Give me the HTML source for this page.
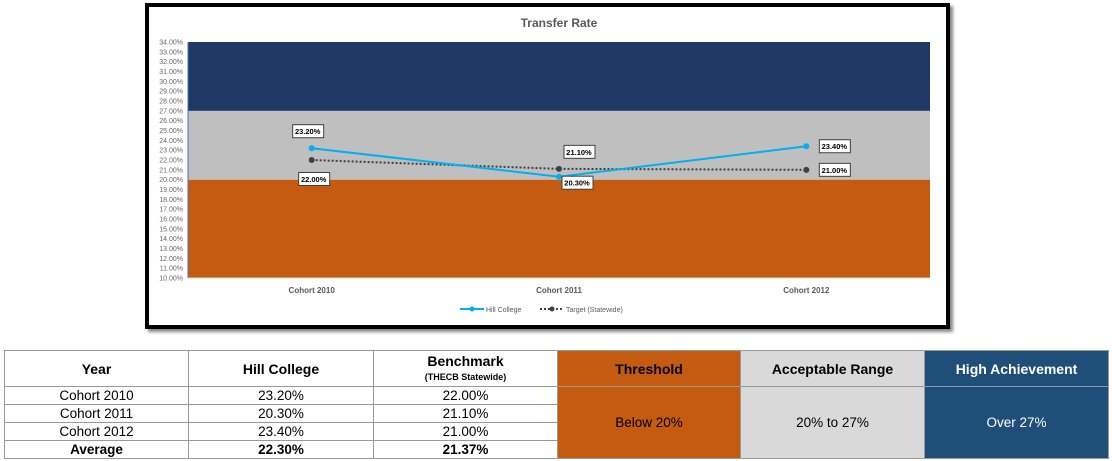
<!DOCTYPE html>
<html><head><meta charset="utf-8">
<style>
body{margin:0;width:1112px;height:461px;background:#fff;font-family:"Liberation Sans",sans-serif;overflow:hidden;position:relative}
#frame{position:absolute;left:145px;top:3px;width:797px;height:318px;border:4px solid #000;box-shadow:3px 3px 3px #888;background:#fff}
table{position:absolute;left:4px;top:350px;border-collapse:collapse;font-size:13.5px}
td{border:1px solid #999;text-align:center;padding:0;height:17px}
.h{font-weight:bold;font-size:14px;height:35px}
</style></head><body>
<div id="frame"></div>
<svg id="chart" width="1112" height="340" style="position:absolute;left:0;top:0"></svg>
<table>
<tr>
<td class="h" style="width:183px">Year</td>
<td class="h" style="width:184px">Hill College</td>
<td class="h" style="width:183px;line-height:14px">Benchmark<br><span style="font-size:9px">(THECB Statewide)</span></td>
<td class="h" style="width:182px;background:#c55a11">Threshold</td>
<td class="h" style="width:183px;background:#d9d9d9">Acceptable Range</td>
<td class="h" style="width:183px;background:#1f4e79;color:#fff">High Achievement</td>
</tr>
<tr><td>Cohort 2010</td><td>23.20%</td><td>22.00%</td>
<td rowspan="4" style="background:#c55a11">Below 20%</td>
<td rowspan="4" style="background:#d9d9d9">20% to 27%</td>
<td rowspan="4" style="background:#1f4e79;color:#fff">Over 27%</td></tr>
<tr><td>Cohort 2011</td><td>20.30%</td><td>21.10%</td></tr>
<tr><td>Cohort 2012</td><td>23.40%</td><td>21.00%</td></tr>
<tr style="font-weight:bold"><td>Average</td><td>22.30%</td><td>21.37%</td></tr>
</table>
<script>
const categories=["Cohort 2010","Cohort 2011","Cohort 2012"];
const hillValues=[23.2,20.3,23.4];
const targetValues=[22.0,21.1,21.0];
const bands=[[10,20,"#c55a11"],[20,27,"#bfbfbf"],[27,34,"#203864"]];
const yMin=10,yMax=34;
const NS="http://www.w3.org/2000/svg";
const svg=document.getElementById('chart');
const L=188,R=930,T=42,B=278;
const y=v=>B-(v-yMin)/(yMax-yMin)*(B-T);
const x=i=>L+(i+0.5)*(R-L)/categories.length;
function mk(t,a,txt){const e=document.createElementNS(NS,t);for(const k in a)e.setAttribute(k,a[k]);if(txt!==undefined)e.textContent=txt;svg.appendChild(e);return e;}
let e=mk('text',{x:559,y:27,'font-size':12,'font-weight':'bold',fill:'#595959','text-anchor':'middle'},'Transfer Rate');


bands.forEach(b=>{const r=mk('rect',{x:L,y:y(b[1]),width:R-L,height:y(b[0])-y(b[1]),fill:b[2]});

});
for(let v=yMin;v<=yMax;v++){const t=mk('text',{x:183,y:y(v)+2.5,'font-size':7,fill:'#666','text-anchor':'end'},v.toFixed(2)+'%');

}
mk('line',{x1:L,y1:T,x2:L,y2:B,stroke:'#4472c4','stroke-width':1});
mk('line',{x1:L,y1:B,x2:R,y2:B,stroke:'#d9d9d9','stroke-width':1});
categories.forEach((c,i)=>{const t=mk('text',{x:x(i),y:293,'font-size':8,'font-weight':'bold',fill:'#595959','text-anchor':'middle'},c);

});
function series(vals,stroke,dash,w,name){
const p=mk('polyline',{points:vals.map((v,i)=>x(i)+','+y(v)).join(' '),fill:'none',stroke:stroke,'stroke-width':w,'stroke-dasharray':dash});


vals.forEach((v,i)=>{const c=mk('circle',{cx:x(i),cy:y(v),r:3,fill:stroke});

});}
series(targetValues,'#404040','2,2',2,'target');
series(hillValues,'#00b0f0','',2,'hill-college');
const offsH=[[-4,-17],[18,6],[28,0]];
const offsT=[[2,19],[20,-17],[28,0]];
function lbl(vals,offs,name){vals.forEach((v,i)=>{const cx=x(i)+offs[i][0],cy=y(v)+offs[i][1];
const g=mk('rect',{x:cx-15,y:cy-6.5,width:31,height:13,fill:'#fff',stroke:'#404040','stroke-width':1});


const t=mk('text',{x:cx,y:cy+3,'font-size':7.5,'font-weight':'bold','text-anchor':'middle',fill:'#000'},v.toFixed(2)+'%');

});}
lbl(hillValues,offsH,'hill-college');
lbl(targetValues,offsT,'target');
mk('line',{x1:460,y1:309,x2:484,y2:309,stroke:'#00b0f0','stroke-width':2});
mk('circle',{cx:472,cy:309,r:2.5,fill:'#00b0f0'});
e=mk('text',{x:486,y:312,'font-size':7,fill:'#595959'},'Hill College');


mk('line',{x1:540,y1:309,x2:564,y2:309,stroke:'#404040','stroke-width':2,'stroke-dasharray':'2,2'});
mk('circle',{cx:552,cy:309,r:2.5,fill:'#404040'});
e=mk('text',{x:566,y:312,'font-size':7,fill:'#595959'},'Target (Statewide)');


</script>
</body></html>
